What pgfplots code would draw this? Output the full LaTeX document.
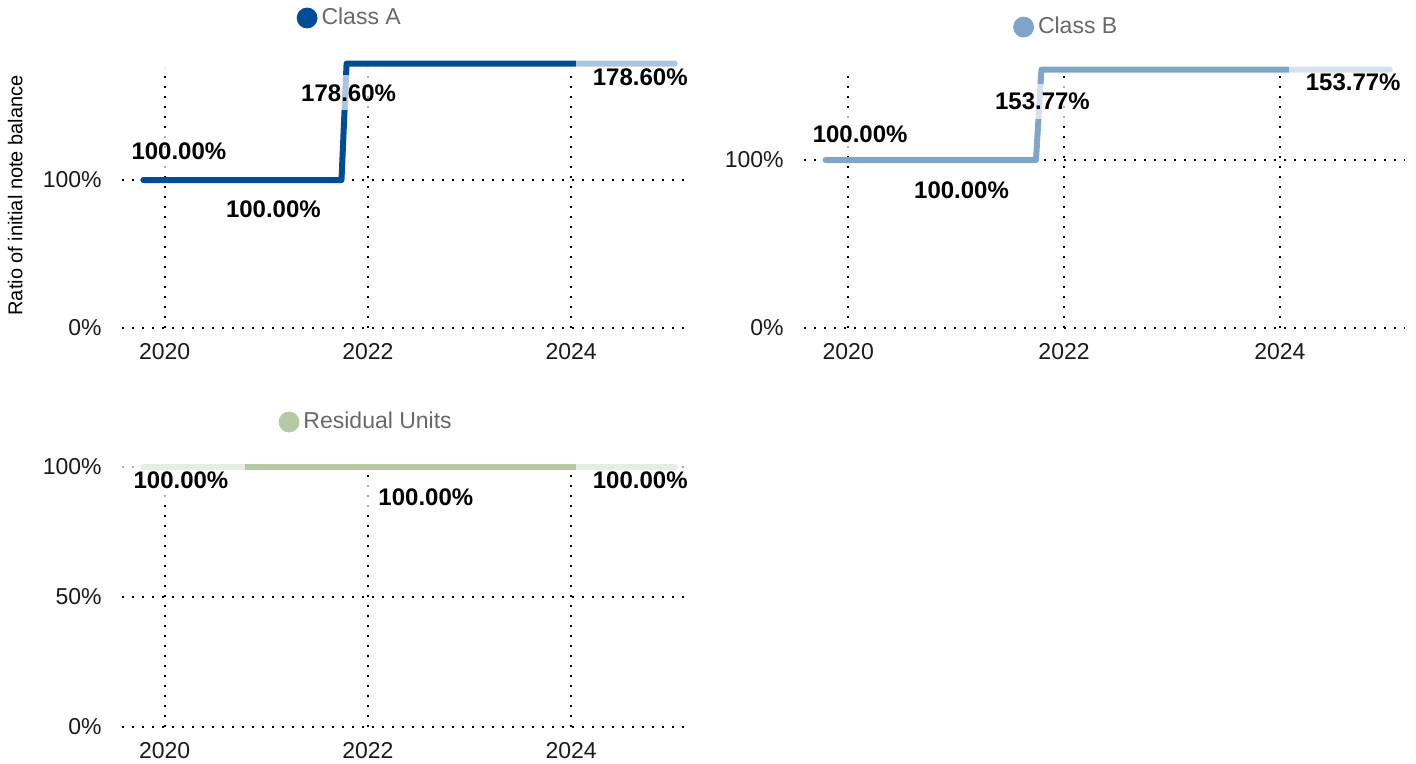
\documentclass[border=0pt]{standalone}
\usepackage{pgfplots}
\pgfplotsset{compat=1.18}
\usepackage{fontspec}
\setmainfont{Liberation Sans}
\definecolor{clsA}{HTML}{004C97}
\definecolor{clsB}{HTML}{7FA6C9}
\definecolor{resid}{HTML}{B5C9A5}
\definecolor{tickgray}{HTML}{1A1A1A}
\definecolor{titlegray}{HTML}{686868}
\definecolor{labgray}{HTML}{444444}

\tikzset{lbl/.style={font=\bfseries\fontsize{12}{14}\selectfont, fill=white, fill opacity=0.68, text opacity=1, inner xsep=8.5pt, inner ysep=4.5pt, text=black}}

\pgfplotsset{
 panel/.style={
  scale only axis, clip=false,
  axis line style={draw=none},
  major tick length=0pt,
  xmajorgrids, ymajorgrids,
  major grid style={black, line width=0.9pt, dash pattern=on 0.9pt off 4.1pt},
  xtick={2020,2022,2024}, xticklabels={2020,2022,2024},
  ticklabel style={font=\fontsize{11.5}{13}\selectfont, text=tickgray},
  xticklabel style={inner sep=0pt, anchor=north, yshift=-7.5pt},
  yticklabel style={inner sep=0pt, anchor=east, xshift=-10pt},
  ymin=0,
  legend style={draw=none, fill=none, inner sep=0pt, font=\fontsize{11.5}{13}\selectfont, text=titlegray, legend cell align=left},
  legend image code/.code={\fill[#1] (5pt,0pt) circle (5pt);},
 }
}

\pgfplotstableread{
x y
2019.79 100
2021.74 100
2021.79 178.6
2025.02 178.6
}\dataA
\pgfplotstableread{
x y
2019.79 100
2021.74 100
2021.79 153.77
2025.02 153.77
}\dataB
\pgfplotstableread{
x y
2019.79 100
2025.02 100
}\dataR

\begin{document}
\begin{tikzpicture}
\useasboundingbox (0,0) rectangle (708pt,382pt);

% Class A
\begin{axis}[panel, at={(61pt,218pt)}, anchor=south west,
  width=282.5pt, height=130pt,
  xmin=2019.58, xmax=2025.14, ymax=175.7,
  ytick={0,100}, yticklabels={0\%,100\%},
  ylabel={Ratio of initial note balance},
  ylabel style={font=\fontsize{11.3}{13}\selectfont, text=labgray},
  every axis y label/.style={at={(axis description cs:-0.189,0.51)}, rotate=90, anchor=center},
  legend style={at={(axis description cs:0.3085,1.1923)}, anchor=west}]
\addlegendimage{color=clsA}
\addlegendentry{Class A}
\addplot[clsA, line width=3pt, line cap=round, line join=round] table[x=x,y=y] {\dataA};
\node[lbl] at (axis cs:2020.14,119.6) {100.00\%};
\node[lbl] at (axis cs:2021.07,80.4) {100.00\%};
\node[lbl] at (axis cs:2021.81,158.8) {178.60\%};
\node[lbl] at (axis cs:2024.68,169.6) {178.60\%};
\end{axis}

% Class B
\begin{axis}[panel, at={(402pt,218pt)}, anchor=south west,
  width=300.5pt, height=129.15pt,
  xmin=2019.59, xmax=2025.16, ymax=153.77,
  ytick={0,100}, yticklabels={0\%,100\%},
  legend style={at={(axis description cs:0.3474,1.165)}, anchor=west}]
\addlegendimage{color=clsB}
\addlegendentry{Class B}
\addplot[clsB, line width=3pt, line cap=round, line join=round] table[x=x,y=y] {\dataB};
\node[lbl] at (axis cs:2020.11,115.5) {100.00\%};
\node[lbl] at (axis cs:2021.05,82.1) {100.00\%};
\node[lbl] at (axis cs:2021.80,135.1) {153.77\%};
\node[lbl] at (axis cs:2024.68,146.4) {153.77\%};
\end{axis}

% Residual Units
\begin{axis}[panel, at={(61pt,18.5pt)}, anchor=south west,
  width=282.5pt, height=130pt,
  xmin=2019.58, xmax=2025.14, ymax=100,
  ytick={0,50,100}, yticklabels={0\%,50\%,100\%},
  legend style={at={(axis description cs:0.2766,1.173)}, anchor=west}]
\addlegendimage{color=resid}
\addlegendentry{Residual Units}
\addplot[resid, line width=3pt, line cap=round, line join=round] table[x=x,y=y] {\dataR};
\node[lbl] at (axis cs:2020.16,95) {100.00\%};
\node[lbl] at (axis cs:2022.57,88.5) {100.00\%};
\node[lbl] at (axis cs:2024.68,95) {100.00\%};
\end{axis}
\end{tikzpicture}
\end{document}
